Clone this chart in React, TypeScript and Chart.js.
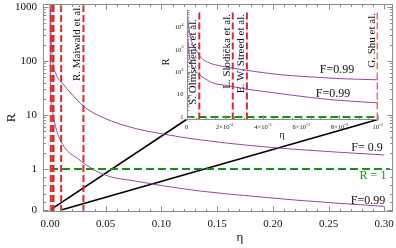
import React, { useEffect, useRef } from "react";
import { Chart, registerables } from "chart.js";

Chart.register(...registerables);

// ---------------- data ----------------
// main plot, upper purple curve (F = 0.9)
const mainUpperEta = [0.0003, 0.0005, 0.001, 0.002, 0.005, 0.011, 0.0186, 0.0305, 0.0485, 0.075, 0.1, 0.135, 0.18, 0.22, 0.26, 0.3];
const mainUpperR = [2000, 1000, 330, 120, 60, 39, 25.6, 14.3, 8.8, 5.75, 4.5, 3.46, 2.72, 2.32, 2.04, 1.82];
// main plot, lower purple curve (F = 0.99)
const mainLowerEta = [0.00005, 0.0002, 0.0006, 0.0018, 0.005, 0.0126, 0.0245, 0.0395, 0.0545, 0.075, 0.1, 0.135, 0.18, 0.22, 0.26, 0.3];
const mainLowerR = [3000, 200, 29, 13.5, 6.1, 2.6, 1.58, 0.98, 0.81, 0.715, 0.598, 0.463, 0.341, 0.244, 0.163, 0.09];

// experiments (vertical dashed lines)
const mainExperimentEta = [0.00067, 0.00242, 0.00316, 0.01, 0.03];
const maiwaldEta = 0.03;
const maiwaldLabel = "R. Maiwald et al.";
const insetExperimentEta = [0.00067, 0.00242, 0.00316, 0.01];
const insetExperimentLabels = ["S. Olmschenk et al.", "L. Slodička et al.", "E. W. Streed et al.", "G. Shu et al."];

// R = 1 reference line
const rOneEta = [0, 0.305];
const rOneInsetEta = [0, 0.01];

// zoom connectors: from (eta, R=0) in main to inset corners
const connectorStartEta = [0, 0.01];
const connectorEndEta = [0.1225, 0.2942];
const connectorEndR = 8.25;

// inset curves
const insetUpperEta = [0.00003, 0.0001, 0.0002, 0.0003, 0.0005, 0.0008, 0.0012, 0.0018, 0.0025, 0.0035, 0.005, 0.0065, 0.008, 0.01];
const insetUpperR = [60000, 13000, 4000, 2000, 1000, 420, 260, 190, 148, 110, 76, 62, 52, 46];
const insetLowerEta = [0.00003, 0.0001, 0.00018, 0.0003, 0.0005, 0.0009, 0.0014, 0.0022, 0.003, 0.004, 0.0055, 0.0075, 0.01];
const insetLowerR = [5700, 1660, 360, 195, 105, 57, 33, 25, 18.5, 14, 9.5, 6, 4.3];

// ticks
const mainXTicks = [0, 0.05, 0.1, 0.15, 0.2, 0.25, 0.3];
const mainXTickLabels = ["0.00", "0.05", "0.10", "0.15", "0.20", "0.25", "0.30"];
const mainXMinor = [0.01, 0.02, 0.03, 0.04, 0.06, 0.07, 0.08, 0.09, 0.11, 0.12, 0.13, 0.14, 0.16, 0.17, 0.18, 0.19, 0.21, 0.22, 0.23, 0.24, 0.26, 0.27, 0.28, 0.29];
const mainYTicks = [0, 1, 10, 100, 1000];
const mainYTickLabels = ["0", "1", "10", "100", "1000"];
const mainYMinor = [0.2, 0.4, 0.6, 0.8, 2, 3, 4, 5, 6, 7, 8, 9, 20, 30, 40, 50, 60, 70, 80, 90, 200, 300, 400, 500, 600, 700, 800, 900];

const insetXTicks = [0, 0.002, 0.004, 0.006, 0.008, 0.01];
const insetXTickBase = ["0", "2×10", "4×10", "6×10", "8×10", "10"];
const insetXTickExp = ["", "-3", "-3", "-3", "-3", "-2"];
const insetXMinor = [0.0005, 0.001, 0.0015, 0.0025, 0.003, 0.0035, 0.0045, 0.005, 0.0055, 0.0065, 0.007, 0.0075, 0.0085, 0.009, 0.0095];
const insetYTicks = [1, 10, 100, 1000, 10000];
const insetYTickBase = ["1", "10", "10", "10", "10"];
const insetYTickExp = ["", "", "2", "3", "4"];

// text labels
const mainCurveLabels = ["F= 0.9", "F=0.99"];
const insetCurveLabels = ["F=0.99", "F=0.99"];
const rOneLabel = "R = 1";

// ---------------- scale helpers ----------------
const BELOW_ONE = 0.76;
const tR = (r: number) => (r >= 1 ? Math.log10(r) : BELOW_ONE * (r - 1));
const X_MIN = -0.0063;
const X_MAX = 0.3079;
const U_MIN = -0.796;
const U_MAX = 3.056;
const IY_MIN = Math.pow(10, -0.11);
const IY_MAX = Math.pow(10, 4.78);

const PURPLE = "rgb(150,70,172)";
const RED = "rgb(214,44,44)";
const GREEN = "rgb(22,145,22)";
const FRAME = "#8c8c8c";
const SERIF = "'Liberation Serif', 'DejaVu Serif', serif";

const mainPts = (xs: number[], rs: number[]) => xs.map((x, i) => ({ x, y: tR(rs[i]) }));
const insetPts = (xs: number[], rs: number[]) => xs.map((x, i) => ({ x, y: rs[i] }));

function rotatedText(ctx: CanvasRenderingContext2D, text: string, cx: number, topY: number, size: number) {
  ctx.save();
  ctx.translate(cx, topY);
  ctx.rotate(-Math.PI / 2);
  ctx.font = `${size}px ${SERIF}`;
  ctx.textAlign = "right";
  ctx.textBaseline = "middle";
  ctx.fillStyle = "#111";
  ctx.fillText(text, 0, 0);
  ctx.restore();
}

function powText(ctx: CanvasRenderingContext2D, base: string, exp: string, x: number, y: number, align: "center" | "right", size: number) {
  ctx.save();
  ctx.textBaseline = "middle";
  ctx.textAlign = "left";
  ctx.font = `${size}px ${SERIF}`;
  const wb = ctx.measureText(base).width;
  ctx.font = `${size * 0.72}px ${SERIF}`;
  const we = exp ? ctx.measureText(exp).width : 0;
  const w = wb + we;
  const x0 = align === "center" ? x - w / 2 : x - w;
  ctx.fillStyle = "#222";
  ctx.font = `${size}px ${SERIF}`;
  ctx.fillText(base, x0, y);
  if (exp) {
    ctx.font = `${size * 0.72}px ${SERIF}`;
    ctx.fillText(exp, x0 + wb, y - size * 0.4);
  }
  ctx.restore();
}

const mainFramePlugin = {
  id: "mainFrame",
  afterDraw(chart: any) {
    const ctx: CanvasRenderingContext2D = chart.ctx;
    const { left, right, top, bottom } = chart.chartArea;
    const xs = chart.scales.x;
    const ys = chart.scales.y;
    const L = Math.round(left) + 0.5;
    const R = Math.round(right) - 0.5;
    const T = Math.round(top) + 0.5;
    const B = Math.round(bottom) - 0.5;
    ctx.save();
    ctx.strokeStyle = FRAME;
    ctx.lineWidth = 1;
    ctx.strokeRect(L, T, R - L, B - T);
    ctx.beginPath();
    const xt = (v: number, len: number) => {
      const p = Math.round(xs.getPixelForValue(v)) + 0.5;
      ctx.moveTo(p, B); ctx.lineTo(p, B - len);
      ctx.moveTo(p, T); ctx.lineTo(p, T + len);
    };
    const yt = (v: number, len: number) => {
      const p = Math.round(ys.getPixelForValue(tR(v))) + 0.5;
      ctx.moveTo(L, p); ctx.lineTo(L + len, p);
      ctx.moveTo(R, p); ctx.lineTo(R - len, p);
    };
    mainXTicks.forEach((v) => xt(v, 5));
    mainXMinor.forEach((v) => xt(v, 2.5));
    mainYTicks.forEach((v) => yt(v, 5));
    mainYMinor.forEach((v) => yt(v, 2.5));
    ctx.stroke();

    ctx.fillStyle = "#111";
    ctx.font = `11px ${SERIF}`;
    ctx.textAlign = "center";
    ctx.textBaseline = "middle";
    mainXTicks.forEach((v, i) => ctx.fillText(mainXTickLabels[i], xs.getPixelForValue(v), 224));
    ctx.textAlign = "right";
    mainYTicks.forEach((v, i) => ctx.fillText(mainYTickLabels[i], 37, ys.getPixelForValue(tR(v))));

    // axis titles
    ctx.font = `13px ${SERIF}`;
    ctx.textAlign = "center";
    ctx.fillText("η", 240, 238);
    ctx.save();
    ctx.translate(12, 118);
    ctx.rotate(-Math.PI / 2);
    ctx.fillText("R", 0, 0);
    ctx.restore();

    // curve labels
    ctx.font = `12px ${SERIF}`;
    ctx.fillText(mainCurveLabels[0], 367, 148);
    ctx.fillText(mainCurveLabels[1], 368, 201);
    ctx.fillStyle = GREEN;
    ctx.fillText(rOneLabel, 373, 176);

    rotatedText(ctx, maiwaldLabel, xs.getPixelForValue(maiwaldEta) - 6, 5, 11);
    ctx.restore();
  },
};

const insetPlugin = {
  id: "insetFrame",
  beforeDraw(chart: any) {
    const ctx: CanvasRenderingContext2D = chart.ctx;
    const { left, right, top, bottom } = chart.chartArea;
    ctx.save();
    ctx.fillStyle = "#fff";
    ctx.fillRect(left, top, right - left, bottom - top);
    ctx.restore();
  },
  afterDraw(chart: any) {
    const ctx: CanvasRenderingContext2D = chart.ctx;
    const { left, right, top, bottom } = chart.chartArea;
    const xs = chart.scales.x;
    const ys = chart.scales.y;
    const L = Math.round(left) + 0.5;
    const B = Math.round(bottom) - 0.5;
    ctx.save();
    ctx.strokeStyle = FRAME;
    ctx.lineWidth = 1;
    ctx.beginPath();
    ctx.moveTo(L, top); ctx.lineTo(L, B); ctx.lineTo(right, B);
    const xt = (v: number, len: number) => {
      const p = Math.round(xs.getPixelForValue(v)) + 0.5;
      ctx.moveTo(p, B); ctx.lineTo(p, B - len);
    };
    const yt = (v: number, len: number) => {
      const p = Math.round(ys.getPixelForValue(v)) + 0.5;
      ctx.moveTo(L, p); ctx.lineTo(L + len, p);
    };
    insetXTicks.forEach((v) => xt(v, 4));
    insetXMinor.forEach((v) => xt(v, 2));
    insetYTicks.forEach((v) => yt(v, 4));
    insetYTicks.forEach((d) => {
      for (let k = 2; k <= 9; k++) if (d * k < IY_MAX) yt(d * k, 2);
    });
    ctx.stroke();

    insetXTicks.forEach((v, i) => powText(ctx, insetXTickBase[i], insetXTickExp[i], xs.getPixelForValue(v), 127, "center", 6.5));
    insetYTicks.forEach((v, i) => powText(ctx, insetYTickBase[i], insetYTickExp[i], left - 3, ys.getPixelForValue(v), "right", 6.5));

    ctx.fillStyle = "#111";
    ctx.textAlign = "center";
    ctx.textBaseline = "middle";
    ctx.font = `10px ${SERIF}`;
    ctx.fillText("η", (left + right) / 2, 135);
    ctx.save();
    ctx.translate(16, 62);
    ctx.rotate(-Math.PI / 2);
    ctx.fillText("R", 0, 0);
    ctx.restore();

    ctx.font = `12px ${SERIF}`;
    ctx.fillText(insetCurveLabels[0], 187, 70);
    ctx.fillText(insetCurveLabels[1], 183, 94);

    const tops = [19, 14, 14, 13];
    insetExperimentEta.forEach((e, i) => rotatedText(ctx, insetExperimentLabels[i], xs.getPixelForValue(e) - 6, tops[i], 11));
    ctx.restore();
  },
};

const lineDs = (data: any[], color: string, width: number, dash: number[] = []) => ({
  data,
  showLine: true,
  borderColor: color,
  borderWidth: width,
  borderDash: dash,
  pointRadius: 0,
  fill: false,
  tension: 0,
});

const curveDs = (data: any[]) => ({ ...lineDs(data, PURPLE, 1), cubicInterpolationMode: "monotone" });

export default function App() {
  const mainRef = useRef<HTMLCanvasElement>(null);
  const insetRef = useRef<HTMLCanvasElement>(null);

  useEffect(() => {
    const mainDatasets: any[] = [
      ...mainExperimentEta.map((e) => lineDs([{ x: e, y: U_MIN }, { x: e, y: U_MAX }], RED, 2, [7, 3])),
      lineDs(rOneEta.map((x) => ({ x, y: tR(1) })), GREEN, 2, [8, 4]),
      curveDs(mainPts(mainUpperEta, mainUpperR)),
      curveDs(mainPts(mainLowerEta, mainLowerR)),
      ...connectorStartEta.map((s, i) => lineDs([{ x: s, y: tR(0) }, { x: connectorEndEta[i], y: tR(connectorEndR) }], "#000", 1.6)),
    ];
    const main = new Chart(mainRef.current!, {
      type: "scatter",
      data: { datasets: mainDatasets },
      options: {
        responsive: false,
        animation: false,
        devicePixelRatio: 1,
        events: [],
        layout: { padding: { left: 43, right: 3, top: 4, bottom: 36 } },
        plugins: { legend: { display: false }, tooltip: { enabled: false } },
        scales: {
          x: { type: "linear", min: X_MIN, max: X_MAX, display: false },
          y: { type: "linear", min: U_MIN, max: U_MAX, display: false },
        },
      } as any,
      plugins: [mainFramePlugin],
    });

    const insetDatasets: any[] = [
      ...insetExperimentEta.map((e) => lineDs([{ x: e, y: IY_MIN }, { x: e, y: IY_MAX }], RED, 2, [7, 3])),
      lineDs(rOneInsetEta.map((x) => ({ x, y: 1 })), GREEN, 2, [8, 4]),
      curveDs(insetPts(insetUpperEta, insetUpperR)),
      curveDs(insetPts(insetLowerEta, insetLowerR)),
    ];
    const inset = new Chart(insetRef.current!, {
      type: "scatter",
      data: { datasets: insetDatasets },
      options: {
        responsive: false,
        animation: false,
        devicePixelRatio: 1,
        events: [],
        layout: { padding: { left: 36.5, right: 18.3, top: 10, bottom: 20.5 } },
        plugins: { legend: { display: false }, tooltip: { enabled: false } },
        scales: {
          x: { type: "linear", min: 0, max: 0.01, display: false },
          y: { type: "logarithmic", min: IY_MIN, max: IY_MAX, display: false },
        },
      } as any,
      plugins: [insetPlugin],
    });

    return () => {
      main.destroy();
      inset.destroy();
    };
  }, []);

  return (
    <div style={{ position: "fixed", left: 0, top: 0, width: 396, height: 248, background: "#fff", overflow: "hidden" }}>
      <canvas ref={mainRef} width={396} height={248} style={{ position: "absolute", left: 0, top: 0, width: 396, height: 248 }} />
      <canvas ref={insetRef} width={246} height={140} style={{ position: "absolute", left: 150, top: 0, width: 246, height: 140 }} />
    </div>
  );
}
